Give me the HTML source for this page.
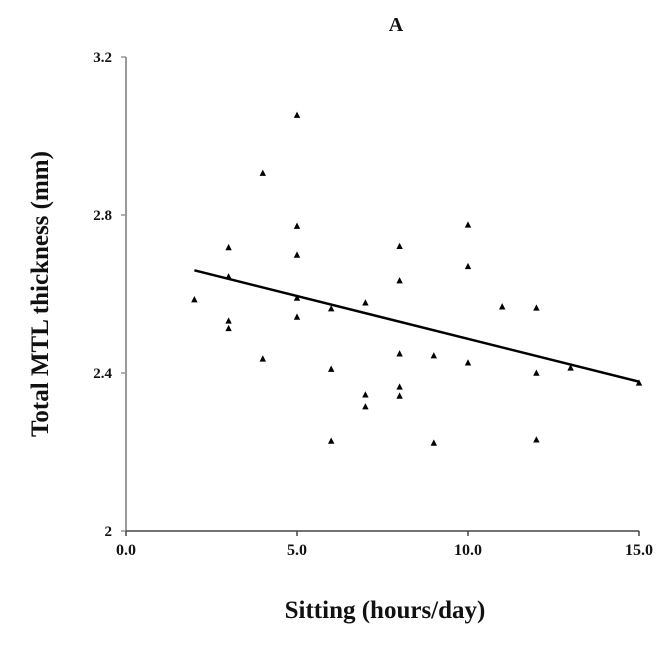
<!DOCTYPE html>
<html><head><meta charset="utf-8"><style>
body{margin:0;background:#fff}
svg text{font-family:"Liberation Serif",serif;font-weight:bold;fill:#111}
</style></head><body>
<svg width="667" height="642" viewBox="0 0 667 642">
<text x="396" y="31" font-size="20" text-anchor="middle">A</text>
<g id="axes"></g>
<g id="marks"></g>
<text x="385" y="618" font-size="25" text-anchor="middle">Sitting (hours/day)</text>
<text transform="translate(48,294) rotate(-90)" font-size="25" text-anchor="middle">Total MTL thickness (mm)</text>
</svg>
<script>
const xVals=[2,3,3,3,3,4,4,5,5,5,5,5,6,6,6,7,7,7,8,8,8,8,8,9,9,10,10,10,11,12,12,12,13,15];
const yVals=[2.586,2.718,2.644,2.532,2.513,2.906,2.436,3.053,2.772,2.699,2.590,2.542,2.563,2.410,2.228,2.578,2.345,2.315,2.721,2.634,2.449,2.365,2.342,2.444,2.223,2.775,2.670,2.426,2.568,2.565,2.400,2.231,2.413,2.375];
const xTicks=[0,5,10,15];
const xTickLabels=["0.0","5.0","10.0","15.0"];
const yTicks=[2,2.4,2.8,3.2];
const yTickLabels=["2","2.4","2.8","3.2"];
const fitX=[2,15];
const fitY=[2.66,2.378];
const NS="http://www.w3.org/2000/svg";
const X0=126,X1=639,Y0=531,Y1=57;
const sx=v=>X0+(v-0)/(15-0)*(X1-X0);
const sy=v=>Y0-(v-2)/(3.2-2)*(Y0-Y1);
function mk(tag,attrs,parent){const e=document.createElementNS(NS,tag);for(const k in attrs)e.setAttribute(k,attrs[k]);parent.appendChild(e);return e;}
const axes=document.getElementById('axes'),marks=document.getElementById('marks');
let e=mk('line',{x1:X0,y1:Y1,x2:X0,y2:Y0,stroke:'#999','stroke-width':2},axes);


e=mk('line',{x1:X0,y1:Y0,x2:X1,y2:Y0,stroke:'#444','stroke-width':1.5},axes);


yTicks.forEach((t,i)=>{
  mk('line',{x1:X0-5,y1:sy(t),x2:X0,y2:sy(t),stroke:'#999','stroke-width':1.5},axes);
  const tx=mk('text',{x:X0-14,y:sy(t)+5,'font-size':15,'text-anchor':'end'},axes);
  tx.textContent=yTickLabels[i];
  
  
});
xTicks.forEach((t,i)=>{
  mk('line',{x1:sx(t),y1:Y0,x2:sx(t),y2:Y0+5,stroke:'#444','stroke-width':1.5},axes);
  const tx=mk('text',{x:sx(t),y:Y0+24,'font-size':16,'text-anchor':'middle'},axes);
  tx.textContent=xTickLabels[i];
  
  
});
const fl=mk('line',{x1:sx(fitX[0]),y1:sy(fitY[0]),x2:sx(fitX[1]),y2:sy(fitY[1]),stroke:'#000','stroke-width':2.5},marks);


xVals.forEach((v,i)=>{
  const cx=sx(v),cy=sy(yVals[i]);
  const p=mk('polygon',{points:`${cx},${cy-3.5} ${cx-3.2},${cy+2.8} ${cx+3.2},${cy+2.8}`,fill:'#000'},marks);
  
  
});
</script>
</body></html>
